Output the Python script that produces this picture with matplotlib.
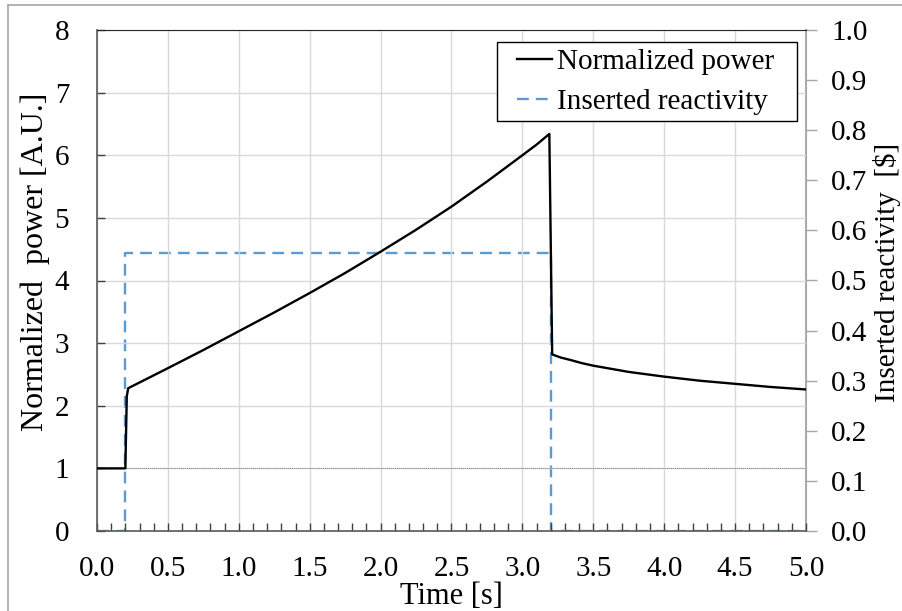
import matplotlib
matplotlib.use("Agg")
import matplotlib.pyplot as plt
from matplotlib.lines import Line2D
from matplotlib.legend_handler import HandlerLine2D
from matplotlib.ticker import MultipleLocator

plt.rcParams['font.family'] = ['Liberation Serif', 'DejaVu Serif']

# Normalized power vs time
time = [0.0, 0.2, 0.21, 0.22, 0.5, 0.75, 1.0, 1.25, 1.5, 1.75, 2.0, 2.25,
        2.5, 2.75, 3.0, 3.1, 3.19, 3.21, 3.27, 3.34, 3.42, 3.5, 3.75, 4.0,
        4.25, 4.5, 4.75, 5.0]
power = [1.0, 1.0, 2.15, 2.28, 2.60, 2.89, 3.19, 3.49, 3.80, 4.12, 4.46,
         4.81, 5.18, 5.58, 6.00, 6.17, 6.34, 2.82, 2.77, 2.73, 2.68, 2.64,
         2.54, 2.465, 2.40, 2.35, 2.30, 2.26]

# Inserted reactivity step
rho_time = [0.0, 0.2, 0.2, 3.2, 3.2, 5.0]
rho = [0.0, 0.0, 0.555, 0.555, 0.0, 0.0]

fig = plt.figure(figsize=(9.03, 6.11), dpi=100)
ax = fig.add_axes([97/903, 1 - 531/611, (806 - 97)/903, (531 - 30)/611])
ax2 = ax.twinx()

# gray frame of the original picture
fig.add_artist(Line2D([8/903, 8/903], [0, 1 - 5/611], color='#a6a6a6', lw=1.2,
                      transform=fig.transFigure))
fig.add_artist(Line2D([8/903, 1], [1 - 5/611, 1 - 5/611], color='#a6a6a6', lw=1.2,
                      transform=fig.transFigure))

ax.grid(True, color='#d9d9d9', lw=1.0)
ax.set_axisbelow(True)
ax.axhline(1.0, color='#808080', lw=0.7, ls=(0, (1, 1)), zorder=1)

lp, = ax.plot(time, power, color='black', lw=1.7, zorder=3)
lr, = ax2.plot(rho_time, rho, color='#5b9bd5', lw=1.7, ls=(0, (5, 3)), zorder=2)

ax.set_zorder(ax2.get_zorder() + 1)
ax.patch.set_visible(False)

ax.set_xlim(0, 5)
ax.set_ylim(0, 8)
ax2.set_ylim(0, 1.0)

ax.xaxis.set_major_locator(MultipleLocator(0.5))
ax.xaxis.set_minor_locator(MultipleLocator(0.1))
ax.yaxis.set_major_locator(MultipleLocator(1))
ax2.yaxis.set_major_locator(MultipleLocator(0.1))

ax.xaxis.set_major_formatter(plt.FormatStrFormatter('%.1f'))
ax2.yaxis.set_major_formatter(plt.FormatStrFormatter('%.1f'))

ax.tick_params(axis='x', which='both', direction='in', length=6, width=1,
               color='#404040', labelsize=21, pad=18, top=False)
ax.tick_params(axis='y', direction='in', length=6, width=1, color='#404040',
               labelsize=21, pad=20, right=False)
ax2.tick_params(axis='y', direction='out', length=8, width=1, color='#a6a6a6',
                labelsize=21, pad=10)

for s in ['left', 'bottom']:
    ax.spines[s].set_color('#595959')
    ax.spines[s].set_linewidth(1.2)
ax.spines['top'].set_color('#262626')
ax.spines['right'].set_visible(False)
ax2.spines['right'].set_color('#a6a6a6')
ax2.spines['right'].set_linewidth(1.5)
for s in ['left', 'bottom', 'top']:
    ax2.spines[s].set_visible(False)

ax.set_xlabel('Time [s]', fontsize=22, labelpad=0)
ax.set_ylabel('Normalized  power [A.U.]', fontsize=23)
ax.yaxis.set_label_coords(-0.066, 0.537)
ax2.set_ylabel(r'Inserted reactivity  [\$]', fontsize=21)
ax2.yaxis.set_label_coords(1.094, 0.517)

hmap = {lp: HandlerLine2D(xpad=0.47), lr: HandlerLine2D(xpad=0.47)}
leg = ax.legend([lp, lr], ['Normalized power', 'Inserted reactivity'],
                loc='upper left', bbox_to_anchor=(0.564, 0, 0.423, 0.976),
                mode='expand', fontsize=21,
                frameon=True, fancybox=False, framealpha=1, edgecolor='black',
                handlelength=1.68, handletextpad=0.17, borderpad=0.22,
                labelspacing=0.47, borderaxespad=0, handler_map=hmap)
leg.get_frame().set_linewidth(1.0)

fig.savefig('out.png', dpi=100)
